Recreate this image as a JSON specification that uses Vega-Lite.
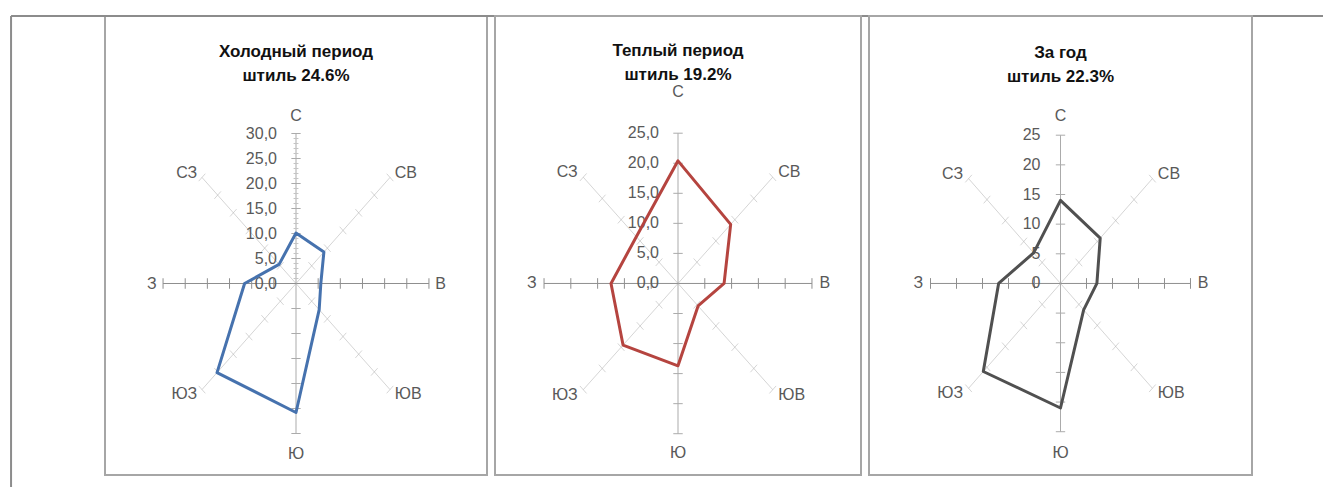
{
  "$schema": "https://vega.github.io/schema/vega-lite/v6.json",
  "padding": {"left": 9, "top": 14, "right": 0, "bottom": 0},
  "spacing": 8,
  "bounds": "flush",
  "background": "white",
  "config": {
    "view": {"stroke": "#a6a6a6", "strokeWidth": 2},
    "text": {"font": "Liberation Sans"},
    "title": {"font": "Liberation Sans"}
  },
  "datasets": {
    "cold": [
      {"dir": "С", "k": 0, "v": 10.1},
      {"dir": "СВ", "k": 1, "v": 8.9},
      {"dir": "В", "k": 2, "v": 5.6},
      {"dir": "ЮВ", "k": 3, "v": 7.4},
      {"dir": "Ю", "k": 4, "v": 25.8},
      {"dir": "ЮЗ", "k": 5, "v": 25.2},
      {"dir": "З", "k": 6, "v": 11.6},
      {"dir": "СЗ", "k": 7, "v": 5.4}
    ],
    "warm": [
      {"dir": "С", "k": 0, "v": 20.4},
      {"dir": "СВ", "k": 1, "v": 13.9},
      {"dir": "В", "k": 2, "v": 8.6},
      {"dir": "ЮВ", "k": 3, "v": 5.3},
      {"dir": "Ю", "k": 4, "v": 13.7},
      {"dir": "ЮЗ", "k": 5, "v": 14.5},
      {"dir": "З", "k": 6, "v": 12.5},
      {"dir": "СЗ", "k": 7, "v": 11.0}
    ],
    "year": [
      {"dir": "С", "k": 0, "v": 14.0},
      {"dir": "СВ", "k": 1, "v": 10.8},
      {"dir": "В", "k": 2, "v": 7.0},
      {"dir": "ЮВ", "k": 3, "v": 6.3},
      {"dir": "Ю", "k": 4, "v": 21.0},
      {"dir": "ЮЗ", "k": 5, "v": 21.0},
      {"dir": "З", "k": 6, "v": 11.9},
      {"dir": "СЗ", "k": 7, "v": 7.3}
    ],
    "ticks30": [
      {"k": 0, "r": [5, 10, 15, 20, 25, 30]},
      {"k": 1, "r": [5, 10, 15, 20, 25, 30]},
      {"k": 2, "r": [5, 10, 15, 20, 25, 30]},
      {"k": 3, "r": [5, 10, 15, 20, 25, 30]},
      {"k": 4, "r": [5, 10, 15, 20, 25, 30]},
      {"k": 5, "r": [5, 10, 15, 20, 25, 30]},
      {"k": 6, "r": [5, 10, 15, 20, 25, 30]},
      {"k": 7, "r": [5, 10, 15, 20, 25, 30]}
    ],
    "ticks25": [
      {"k": 0, "r": [5, 10, 15, 20, 25]},
      {"k": 1, "r": [5, 10, 15, 20, 25]},
      {"k": 2, "r": [5, 10, 15, 20, 25]},
      {"k": 3, "r": [5, 10, 15, 20, 25]},
      {"k": 4, "r": [5, 10, 15, 20, 25]},
      {"k": 5, "r": [5, 10, 15, 20, 25]},
      {"k": 6, "r": [5, 10, 15, 20, 25]},
      {"k": 7, "r": [5, 10, 15, 20, 25]}
    ],
    "minor30": [
      {"k": 0, "r": [1, 2, 3, 4, 6, 7, 8, 9, 11, 12, 13, 14, 16, 17, 18, 19, 21, 22, 23, 24, 26, 27, 28, 29]}
    ],
    "labs30": [
      {"r": 0, "lab": "0,0"}, {"r": 5, "lab": "5,0"}, {"r": 10, "lab": "10,0"},
      {"r": 15, "lab": "15,0"}, {"r": 20, "lab": "20,0"}, {"r": 25, "lab": "25,0"}, {"r": 30, "lab": "30,0"}
    ],
    "labs25": [
      {"r": 0, "lab": "0,0"}, {"r": 5, "lab": "5,0"}, {"r": 10, "lab": "10,0"},
      {"r": 15, "lab": "15,0"}, {"r": 20, "lab": "20,0"}, {"r": 25, "lab": "25,0"}
    ],
    "labs25i": [
      {"r": 0, "lab": "0"}, {"r": 5, "lab": "5"}, {"r": 10, "lab": "10"},
      {"r": 15, "lab": "15"}, {"r": 20, "lab": "20"}, {"r": 25, "lab": "25"}
    ]
  },
  "hconcat": [
    {
      "width": 382,
      "height": 459,
      "title": {"text": ["Холодный период", "штиль 24.6%"], "anchor": "middle", "offset": -83, "baseline": "alphabetic", "fontSize": 17, "fontWeight": "bold", "lineHeight": 24, "color": "#111111"},
      "layer": [
        {
          "data": {"values": [{}]},
          "transform": [
            {"calculate": "-64.3", "as": "fx"},
            {"calculate": "234", "as": "fx2"},
            {"calculate": "53.5", "as": "fy"},
            {"calculate": "-45", "as": "fy2"}
          ],
          "layer": [
            {
              "mark": {"type": "rule", "clip": false, "stroke": "#8c8c8c", "strokeWidth": 2},
              "encoding": {
                "x": {"field": "fx", "type": "quantitative", "scale": {"domain": [-43.1, 43.1], "nice": false, "zero": false}, "axis": null},
                "y": {"field": "fy", "type": "quantitative", "scale": {"domain": [-38.3, 53.5], "nice": false, "zero": false}, "axis": null},
                "y2": {"field": "fy2"}
              }
            },
            {
              "mark": {"type": "rule", "clip": false, "stroke": "#8c8c8c", "strokeWidth": 2},
              "encoding": {
                "x": {"field": "fx", "type": "quantitative", "axis": null},
                "x2": {"field": "fx2"},
                "y": {"field": "fy", "type": "quantitative", "axis": null}
              }
            }
          ]
        },
        {
          "data": {"name": "cold"},
          "transform": [
            {"calculate": "datum.k*PI/4", "as": "a"},
            {"calculate": "0", "as": "o"},
            {"calculate": "30*sin(datum.a)", "as": "ex"},
            {"calculate": "30*cos(datum.a)", "as": "ey"}
          ],
          "mark": {"type": "rule", "strokeWidth": 1},
          "encoding": {
            "x": {"field": "o", "type": "quantitative", "axis": null},
            "y": {"field": "o", "type": "quantitative", "axis": null},
            "x2": {"field": "ex"},
            "y2": {"field": "ey"},
            "color": {"condition": {"test": "datum.k==2||datum.k==6", "value": "#8f8f8f"}, "value": "#ababab"},
            "strokeOpacity": {"condition": {"test": "datum.k%2==1", "value": 0.5}, "value": 1}
          }
        },
        {
          "data": {"name": "ticks30"},
          "transform": [
            {"flatten": ["r"]},
            {"calculate": "datum.k*PI/4", "as": "a"},
            {"calculate": "datum.r*sin(datum.a)+1.05*cos(datum.a)", "as": "x1"},
            {"calculate": "datum.r*cos(datum.a)-1.05*sin(datum.a)", "as": "y1"},
            {"calculate": "datum.r*sin(datum.a)-1.05*cos(datum.a)", "as": "x2"},
            {"calculate": "datum.r*cos(datum.a)+1.05*sin(datum.a)", "as": "y2"}
          ],
          "mark": {"type": "rule", "strokeWidth": 1},
          "encoding": {
            "x": {"field": "x1", "type": "quantitative", "axis": null},
            "y": {"field": "y1", "type": "quantitative", "axis": null},
            "x2": {"field": "x2"},
            "y2": {"field": "y2"},
            "color": {"condition": {"test": "datum.k==2||datum.k==6", "value": "#8f8f8f"}, "value": "#ababab"},
            "strokeOpacity": {"condition": {"test": "datum.k%2==1", "value": 0.5}, "value": 1}
          }
        },
        {
          "data": {"name": "minor30"},
          "transform": [
            {"flatten": ["r"]},
            {"calculate": "-0.55", "as": "x1"},
            {"calculate": "0.55", "as": "x2"}
          ],
          "mark": {"type": "rule", "strokeWidth": 1, "color": "#c4c4c4"},
          "encoding": {
            "x": {"field": "x1", "type": "quantitative", "axis": null},
            "x2": {"field": "x2"},
            "y": {"field": "r", "type": "quantitative", "axis": null}
          }
        },
        {
          "data": {"name": "labs30"},
          "transform": [{"calculate": "0", "as": "o"}],
          "mark": {"type": "text", "align": "right", "baseline": "middle", "dx": -19, "fontSize": 16, "color": "#595959"},
          "encoding": {
            "x": {"field": "o", "type": "quantitative", "axis": null},
            "y": {"field": "r", "type": "quantitative", "axis": null},
            "text": {"field": "lab"}
          }
        },
        {
          "data": {"name": "cold"},
          "transform": [
            {"filter": "datum.k==0"},
            {"calculate": "datum.k*PI/4", "as": "a"},
            {"calculate": "31.2*sin(datum.a)", "as": "lx"},
            {"calculate": "31.2*cos(datum.a)", "as": "ly"}
          ],
          "mark": {"type": "text", "align": "center", "baseline": "alphabetic", "dy": -7, "fontSize": 16, "color": "#595959"},
          "encoding": {
            "x": {"field": "lx", "type": "quantitative", "axis": null},
            "y": {"field": "ly", "type": "quantitative", "axis": null},
            "text": {"field": "dir"}
          }
        },
        {
          "data": {"name": "cold"},
          "transform": [
            {"filter": "datum.k==4"},
            {"calculate": "datum.k*PI/4", "as": "a"},
            {"calculate": "31.2*sin(datum.a)", "as": "lx"},
            {"calculate": "31.2*cos(datum.a)", "as": "ly"}
          ],
          "mark": {"type": "text", "align": "center", "baseline": "alphabetic", "dy": 19, "fontSize": 16, "color": "#595959"},
          "encoding": {
            "x": {"field": "lx", "type": "quantitative", "axis": null},
            "y": {"field": "ly", "type": "quantitative", "axis": null},
            "text": {"field": "dir"}
          }
        },
        {
          "data": {"name": "cold"},
          "transform": [
            {"filter": "datum.k>=1&&datum.k<=3"},
            {"calculate": "datum.k*PI/4", "as": "a"},
            {"calculate": "31.2*sin(datum.a)", "as": "lx"},
            {"calculate": "31.2*cos(datum.a)", "as": "ly"}
          ],
          "mark": {"type": "text", "align": "left", "baseline": "middle", "dx": 1, "fontSize": 16, "color": "#595959"},
          "encoding": {
            "x": {"field": "lx", "type": "quantitative", "axis": null},
            "y": {"field": "ly", "type": "quantitative", "axis": null},
            "text": {"field": "dir"}
          }
        },
        {
          "data": {"name": "cold"},
          "transform": [
            {"filter": "datum.k>=5"},
            {"calculate": "datum.k*PI/4", "as": "a"},
            {"calculate": "31.2*sin(datum.a)", "as": "lx"},
            {"calculate": "31.2*cos(datum.a)", "as": "ly"}
          ],
          "mark": {"type": "text", "align": "right", "baseline": "middle", "dx": -1, "fontSize": 16, "color": "#595959"},
          "encoding": {
            "x": {"field": "lx", "type": "quantitative", "axis": null},
            "y": {"field": "ly", "type": "quantitative", "axis": null},
            "text": {"field": "dir"}
          }
        },
        {
          "data": {"name": "cold"},
          "transform": [
            {"calculate": "datum.k*PI/4", "as": "a"},
            {"calculate": "datum.v*sin(datum.a)", "as": "px"},
            {"calculate": "datum.v*cos(datum.a)", "as": "py"}
          ],
          "mark": {"type": "line", "interpolate": "linear-closed", "strokeWidth": 3, "color": "#4672ae", "strokeJoin": "round"},
          "encoding": {
            "x": {"field": "px", "type": "quantitative", "axis": null},
            "y": {"field": "py", "type": "quantitative", "axis": null},
            "order": {"field": "k", "type": "quantitative"}
          }
        }
      ]
    },
    {
      "width": 366,
      "height": 459,
      "title": {"text": ["Теплый период", "штиль 19.2%"], "anchor": "middle", "offset": -81, "baseline": "alphabetic", "fontSize": 17, "fontWeight": "bold", "lineHeight": 24, "color": "#111111"},
      "layer": [
        {
          "data": {"name": "warm"},
          "transform": [
            {"calculate": "datum.k*PI/4", "as": "a"},
            {"calculate": "0", "as": "o"},
            {"calculate": "25*sin(datum.a)", "as": "ex"},
            {"calculate": "25*cos(datum.a)", "as": "ey"}
          ],
          "mark": {"type": "rule", "strokeWidth": 1},
          "encoding": {
            "x": {"field": "o", "type": "quantitative", "scale": {"domain": [-34.15, 34.15], "nice": false, "zero": false}, "axis": null},
            "y": {"field": "o", "type": "quantitative", "scale": {"domain": [-31.87, 44.5], "nice": false, "zero": false}, "axis": null},
            "x2": {"field": "ex"},
            "y2": {"field": "ey"},
            "color": {"condition": {"test": "datum.k==2||datum.k==6", "value": "#8f8f8f"}, "value": "#ababab"},
            "strokeOpacity": {"condition": {"test": "datum.k%2==1", "value": 0.5}, "value": 1}
          }
        },
        {
          "data": {"name": "ticks25"},
          "transform": [
            {"flatten": ["r"]},
            {"calculate": "datum.k*PI/4", "as": "a"},
            {"calculate": "datum.r*sin(datum.a)+0.88*cos(datum.a)", "as": "x1"},
            {"calculate": "datum.r*cos(datum.a)-0.88*sin(datum.a)", "as": "y1"},
            {"calculate": "datum.r*sin(datum.a)-0.88*cos(datum.a)", "as": "x2"},
            {"calculate": "datum.r*cos(datum.a)+0.88*sin(datum.a)", "as": "y2"}
          ],
          "mark": {"type": "rule", "strokeWidth": 1},
          "encoding": {
            "x": {"field": "x1", "type": "quantitative", "axis": null},
            "y": {"field": "y1", "type": "quantitative", "axis": null},
            "x2": {"field": "x2"},
            "y2": {"field": "y2"},
            "color": {"condition": {"test": "datum.k==2||datum.k==6", "value": "#8f8f8f"}, "value": "#ababab"},
            "strokeOpacity": {"condition": {"test": "datum.k%2==1", "value": 0.5}, "value": 1}
          }
        },
        {
          "data": {"name": "labs25"},
          "transform": [{"calculate": "0", "as": "o"}],
          "mark": {"type": "text", "align": "right", "baseline": "middle", "dx": -19, "fontSize": 16, "color": "#595959"},
          "encoding": {
            "x": {"field": "o", "type": "quantitative", "axis": null},
            "y": {"field": "r", "type": "quantitative", "axis": null},
            "text": {"field": "lab"}
          }
        },
        {
          "data": {"name": "warm"},
          "transform": [
            {"filter": "datum.k==0"},
            {"calculate": "datum.k*PI/4", "as": "a"},
            {"calculate": "26.2*sin(datum.a)", "as": "lx"},
            {"calculate": "26.2*cos(datum.a)", "as": "ly"}
          ],
          "mark": {"type": "text", "align": "center", "baseline": "alphabetic", "dy": -29, "fontSize": 16, "color": "#595959"},
          "encoding": {
            "x": {"field": "lx", "type": "quantitative", "axis": null},
            "y": {"field": "ly", "type": "quantitative", "axis": null},
            "text": {"field": "dir"}
          }
        },
        {
          "data": {"name": "warm"},
          "transform": [
            {"filter": "datum.k==4"},
            {"calculate": "datum.k*PI/4", "as": "a"},
            {"calculate": "26.2*sin(datum.a)", "as": "lx"},
            {"calculate": "26.2*cos(datum.a)", "as": "ly"}
          ],
          "mark": {"type": "text", "align": "center", "baseline": "alphabetic", "dy": 17, "fontSize": 16, "color": "#595959"},
          "encoding": {
            "x": {"field": "lx", "type": "quantitative", "axis": null},
            "y": {"field": "ly", "type": "quantitative", "axis": null},
            "text": {"field": "dir"}
          }
        },
        {
          "data": {"name": "warm"},
          "transform": [
            {"filter": "datum.k>=1&&datum.k<=3"},
            {"calculate": "datum.k*PI/4", "as": "a"},
            {"calculate": "26.2*sin(datum.a)", "as": "lx"},
            {"calculate": "26.2*cos(datum.a)", "as": "ly"}
          ],
          "mark": {"type": "text", "align": "left", "baseline": "middle", "dx": 1, "fontSize": 16, "color": "#595959"},
          "encoding": {
            "x": {"field": "lx", "type": "quantitative", "axis": null},
            "y": {"field": "ly", "type": "quantitative", "axis": null},
            "text": {"field": "dir"}
          }
        },
        {
          "data": {"name": "warm"},
          "transform": [
            {"filter": "datum.k>=5"},
            {"calculate": "datum.k*PI/4", "as": "a"},
            {"calculate": "26.2*sin(datum.a)", "as": "lx"},
            {"calculate": "26.2*cos(datum.a)", "as": "ly"}
          ],
          "mark": {"type": "text", "align": "right", "baseline": "middle", "dx": -1, "fontSize": 16, "color": "#595959"},
          "encoding": {
            "x": {"field": "lx", "type": "quantitative", "axis": null},
            "y": {"field": "ly", "type": "quantitative", "axis": null},
            "text": {"field": "dir"}
          }
        },
        {
          "data": {"name": "warm"},
          "transform": [
            {"calculate": "datum.k*PI/4", "as": "a"},
            {"calculate": "datum.v*sin(datum.a)", "as": "px"},
            {"calculate": "datum.v*cos(datum.a)", "as": "py"}
          ],
          "mark": {"type": "line", "interpolate": "linear-closed", "strokeWidth": 3, "color": "#b5443f", "strokeJoin": "round"},
          "encoding": {
            "x": {"field": "px", "type": "quantitative", "axis": null},
            "y": {"field": "py", "type": "quantitative", "axis": null},
            "order": {"field": "k", "type": "quantitative"}
          }
        }
      ]
    },
    {
      "width": 383,
      "height": 459,
      "title": {"text": ["За год", "штиль 22.3%"], "anchor": "middle", "offset": -83, "baseline": "alphabetic", "fontSize": 17, "fontWeight": "bold", "lineHeight": 24, "color": "#111111"},
      "layer": [
        {
          "data": {"name": "year"},
          "transform": [
            {"calculate": "datum.k*PI/4", "as": "a"},
            {"calculate": "0", "as": "o"},
            {"calculate": "25*sin(datum.a)", "as": "ex"},
            {"calculate": "25*cos(datum.a)", "as": "ey"}
          ],
          "mark": {"type": "rule", "strokeWidth": 1},
          "encoding": {
            "x": {"field": "o", "type": "quantitative", "scale": {"domain": [-36.83, 36.83], "nice": false, "zero": false}, "axis": null},
            "y": {"field": "o", "type": "quantitative", "scale": {"domain": [-32.3, 45.1], "nice": false, "zero": false}, "axis": null},
            "x2": {"field": "ex"},
            "y2": {"field": "ey"},
            "color": {"condition": {"test": "datum.k==2||datum.k==6", "value": "#8f8f8f"}, "value": "#ababab"},
            "strokeOpacity": {"condition": {"test": "datum.k%2==1", "value": 0.5}, "value": 1}
          }
        },
        {
          "data": {"name": "ticks25"},
          "transform": [
            {"flatten": ["r"]},
            {"calculate": "datum.k*PI/4", "as": "a"},
            {"calculate": "datum.r*sin(datum.a)+0.9*cos(datum.a)", "as": "x1"},
            {"calculate": "datum.r*cos(datum.a)-0.9*sin(datum.a)", "as": "y1"},
            {"calculate": "datum.r*sin(datum.a)-0.9*cos(datum.a)", "as": "x2"},
            {"calculate": "datum.r*cos(datum.a)+0.9*sin(datum.a)", "as": "y2"}
          ],
          "mark": {"type": "rule", "strokeWidth": 1},
          "encoding": {
            "x": {"field": "x1", "type": "quantitative", "axis": null},
            "y": {"field": "y1", "type": "quantitative", "axis": null},
            "x2": {"field": "x2"},
            "y2": {"field": "y2"},
            "color": {"condition": {"test": "datum.k==2||datum.k==6", "value": "#8f8f8f"}, "value": "#ababab"},
            "strokeOpacity": {"condition": {"test": "datum.k%2==1", "value": 0.5}, "value": 1}
          }
        },
        {
          "data": {"name": "labs25i"},
          "transform": [{"calculate": "0", "as": "o"}],
          "mark": {"type": "text", "align": "right", "baseline": "middle", "dx": -20, "fontSize": 16, "color": "#595959"},
          "encoding": {
            "x": {"field": "o", "type": "quantitative", "axis": null},
            "y": {"field": "r", "type": "quantitative", "axis": null},
            "text": {"field": "lab"}
          }
        },
        {
          "data": {"name": "year"},
          "transform": [
            {"filter": "datum.k==0"},
            {"calculate": "datum.k*PI/4", "as": "a"},
            {"calculate": "26.2*sin(datum.a)", "as": "lx"},
            {"calculate": "26.2*cos(datum.a)", "as": "ly"}
          ],
          "mark": {"type": "text", "align": "center", "baseline": "alphabetic", "dy": -7, "fontSize": 16, "color": "#595959"},
          "encoding": {
            "x": {"field": "lx", "type": "quantitative", "axis": null},
            "y": {"field": "ly", "type": "quantitative", "axis": null},
            "text": {"field": "dir"}
          }
        },
        {
          "data": {"name": "year"},
          "transform": [
            {"filter": "datum.k==4"},
            {"calculate": "datum.k*PI/4", "as": "a"},
            {"calculate": "26.2*sin(datum.a)", "as": "lx"},
            {"calculate": "26.2*cos(datum.a)", "as": "ly"}
          ],
          "mark": {"type": "text", "align": "center", "baseline": "alphabetic", "dy": 19, "fontSize": 16, "color": "#595959"},
          "encoding": {
            "x": {"field": "lx", "type": "quantitative", "axis": null},
            "y": {"field": "ly", "type": "quantitative", "axis": null},
            "text": {"field": "dir"}
          }
        },
        {
          "data": {"name": "year"},
          "transform": [
            {"filter": "datum.k>=1&&datum.k<=3"},
            {"calculate": "datum.k*PI/4", "as": "a"},
            {"calculate": "26.2*sin(datum.a)", "as": "lx"},
            {"calculate": "26.2*cos(datum.a)", "as": "ly"}
          ],
          "mark": {"type": "text", "align": "left", "baseline": "middle", "dx": 1, "fontSize": 16, "color": "#595959"},
          "encoding": {
            "x": {"field": "lx", "type": "quantitative", "axis": null},
            "y": {"field": "ly", "type": "quantitative", "axis": null},
            "text": {"field": "dir"}
          }
        },
        {
          "data": {"name": "year"},
          "transform": [
            {"filter": "datum.k>=5"},
            {"calculate": "datum.k*PI/4", "as": "a"},
            {"calculate": "26.2*sin(datum.a)", "as": "lx"},
            {"calculate": "26.2*cos(datum.a)", "as": "ly"}
          ],
          "mark": {"type": "text", "align": "right", "baseline": "middle", "dx": -1, "fontSize": 16, "color": "#595959"},
          "encoding": {
            "x": {"field": "lx", "type": "quantitative", "axis": null},
            "y": {"field": "ly", "type": "quantitative", "axis": null},
            "text": {"field": "dir"}
          }
        },
        {
          "data": {"name": "year"},
          "transform": [
            {"calculate": "datum.k*PI/4", "as": "a"},
            {"calculate": "datum.v*sin(datum.a)", "as": "px"},
            {"calculate": "datum.v*cos(datum.a)", "as": "py"}
          ],
          "mark": {"type": "line", "interpolate": "linear-closed", "strokeWidth": 3, "color": "#505050", "strokeJoin": "round"},
          "encoding": {
            "x": {"field": "px", "type": "quantitative", "axis": null},
            "y": {"field": "py", "type": "quantitative", "axis": null},
            "order": {"field": "k", "type": "quantitative"}
          }
        }
      ]
    }
  ]
}
